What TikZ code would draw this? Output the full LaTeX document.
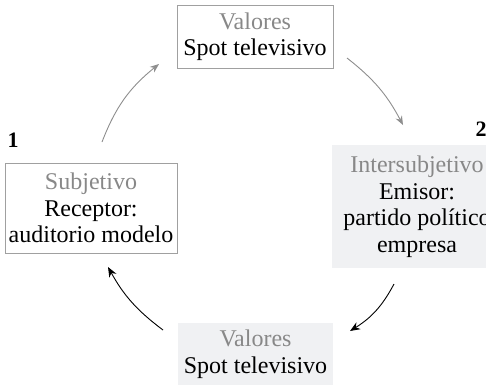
\documentclass[tikz,border=0pt]{standalone}
\usepackage{fontspec}
\setmainfont{Liberation Serif}
\usetikzlibrary{arrows.meta}
\definecolor{lbl}{HTML}{888888}
\definecolor{frame}{HTML}{A0A0A0}
\definecolor{shade}{HTML}{F0F1F3}
\definecolor{garrow}{HTML}{8E8E8E}
\begin{document}
\begin{tikzpicture}[x=1pt,y=-1pt,
  txt/.style={font=\fontsize{24}{26.5}\selectfont, align=center, inner sep=2pt},
  framed/.style={txt, draw=frame, line width=0.8pt},
  shaded/.style={txt, fill=shade},
  num/.style={font=\fontsize{22}{24}\selectfont\bfseries, inner sep=0pt},
  garr/.style={draw=garrow, line width=0.9pt, -{Stealth[length=9pt,width=7pt]}},
  barr/.style={draw=black, line width=0.9pt, -{Stealth[length=10pt,width=8pt]}}]
\useasboundingbox (0,0) rectangle (486,384);
\node[framed, minimum width=156pt, minimum height=63pt] (top) at (255,36.5)
  {\textcolor{lbl}{Valores}\\Spot televisivo};
\node[framed, minimum width=172pt, minimum height=90pt] (left) at (91,208)
  {\textcolor{lbl}{Subjetivo}\\Receptor:\\auditorio modelo};
\node[shaded, minimum width=170pt, minimum height=123pt] (right) at (417,206.5)
  {\textcolor{lbl}{Intersubjetivo}\\Emisor:\\partido político\\empresa};
\node[shaded, minimum width=155pt, minimum height=63pt] (bottom) at (255.5,354)
  {\textcolor{lbl}{Valores}\\Spot televisivo};
\node[num] (n1) at (13,140) {1};
\node[num] (n2) at (481,129) {2};
\coordinate (a1s) at (102,142);
\coordinate (a1e) at (159,64);
\coordinate (a2s) at (347,58);
\coordinate (a2e) at (403,125);
\coordinate (a3s) at (394,284);
\coordinate (a3e) at (350,331);
\coordinate (a4s) at (163,330);
\coordinate (a4e) at (108,267);
\draw[garr] (a1s) to[bend left=15] (a1e);
\draw[garr] (a2s) to[bend left=12] (a2e);
\draw[barr] (a3s) to[bend left=15] (a3e);
\draw[barr] (a4s) to[bend left=12] (a4e);
\end{tikzpicture}
\end{document}
